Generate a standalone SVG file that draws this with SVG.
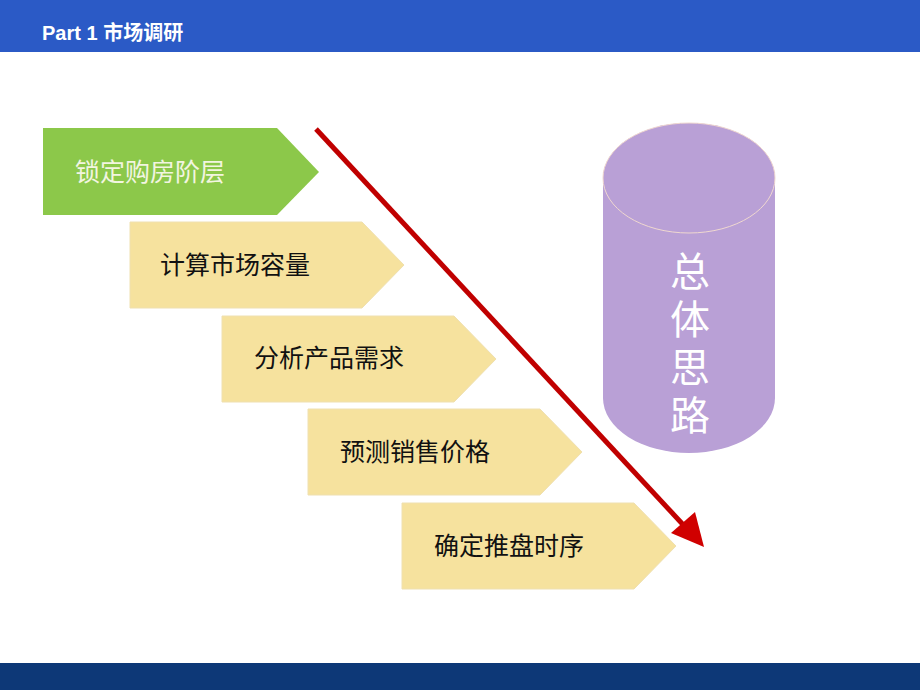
<svg xmlns="http://www.w3.org/2000/svg" width="920" height="690" viewBox="0 0 920 690">
<defs>
<style>
.box{fill:#f6e29e;stroke:#efe0b0;stroke-width:1}
.lbl{font-family:"Liberation Sans","Noto Sans CJK SC",sans-serif;font-size:25px;fill:#111}
</style>
</defs>
<rect width="920" height="690" fill="#ffffff"/>
<rect x="0" y="0" width="920" height="52" fill="#2b5ac6"/>
<text x="42" y="40" font-family="Liberation Sans,'Noto Sans CJK SC',sans-serif" font-size="20" font-weight="bold" fill="#ffffff">Part 1 市场调研</text>
<rect x="0" y="663" width="920" height="27" fill="#0d3877"/>

<g id="n1"><polygon points="43,128 277,128 319,172 277,215 43,215" fill="#8cc84a"/><text x="75" y="181" class="lbl" style="fill:#f2f5e0">锁定购房阶层</text></g>
<g id="n2"><polygon class="box" points="130,222 362,222 404,265 362,308 130,308"/><text x="160" y="274" class="lbl">计算市场容量</text></g>
<g id="n3"><polygon class="box" points="222,316 454,316 496,359 454,402 222,402"/><text x="254" y="367" class="lbl">分析产品需求</text></g>
<g id="n4"><polygon class="box" points="308,409 540,409 582,452 540,495 308,495"/><text x="340" y="461" class="lbl">预测销售价格</text></g>
<g id="n5"><polygon class="box" points="402,503 634,503 676,546 634,589 402,589"/><text x="434" y="555" class="lbl">确定推盘时序</text></g>

<g id="n6">
<path d="M603,178 L603,398 A86,55 0 0 0 775,398 L775,178 A86,55 0 0 0 603,178 Z" fill="#b9a0d6"/>
<ellipse cx="689" cy="178" rx="86" ry="55" fill="#b9a0d6" stroke="#f0d8d0" stroke-width="1"/>
<text x="690" y="251" writing-mode="vertical-rl" letter-spacing="8" font-family="'Noto Sans CJK SC',sans-serif" font-size="40" fill="#ffffff">总体思路</text>
</g>

<g id="connectors">
<line x1="316" y1="129" x2="688" y2="530" stroke="#c00000" stroke-width="5"/>
<polygon points="704,547 671,533 695,512" fill="#d00000"/>
</g>
</svg>
